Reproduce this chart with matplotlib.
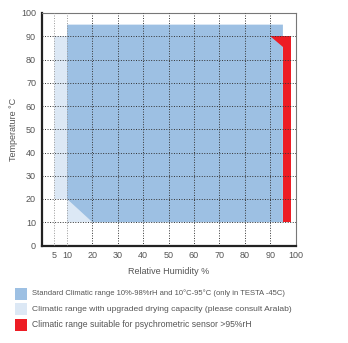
import matplotlib
matplotlib.use("Agg")
import matplotlib.pyplot as plt
from matplotlib.patches import Polygon, Rectangle

plt.rcParams['font.family'] = ['Liberation Sans', 'DejaVu Sans']

# Operating ranges (relative humidity %, temperature °C)
standard_rh = [10, 95, 95, 20, 10]
standard_t = [95, 95, 10, 10, 20]
upgraded_rh = [5, 10, 10, 20, 10, 10, 5]
upgraded_t = [90, 90, 20, 10, 10, 20, 20]
sensor_rh = [90, 98, 98, 95, 95]
sensor_t = [90, 90, 10, 10, 85.5]

x_ticks = [5, 10, 20, 30, 40, 50, 60, 70, 80, 90, 100]
y_ticks = [0, 10, 20, 30, 40, 50, 60, 70, 80, 90, 100]
legend_labels = [
    "Standard Climatic range 10%-98%rH and 10°C-95°C (only in TESTA -45C)",
    "Climatic range with upgraded drying capacity (please consult Aralab)",
    "Climatic range suitable for psychrometric sensor >95%rH",
]
legend_sizes = [5.5, 6.1, 6.2]

c_std = "#9dc0e3"
c_upg = "#dce8f5"
c_sen = "#ed1c24"
txt = "#555555"

fig = plt.figure(figsize=(3.48, 3.43), dpi=100)
ax = fig.add_axes([41.6 / 348, 1 - 245.5 / 343, (295.6 - 41.6) / 348, (245.5 - 13) / 343])
ax.set_xlim(0, 100)
ax.set_ylim(0, 100)

ax.add_patch(Polygon(list(zip(upgraded_rh, upgraded_t)), closed=True, fc=c_upg, ec="none", zorder=1))
ax.add_patch(Polygon(list(zip(standard_rh, standard_t)), closed=True, fc=c_std, ec="none", zorder=1))
ax.add_patch(Polygon(list(zip(sensor_rh, sensor_t)), closed=True, fc=c_sen, ec="none", zorder=2))

# dotted grid
for xv in x_ticks[:-1]:
    col = "#999999" if xv in (5, 10) else "#333333"
    ax.plot([xv, xv], [0, 100], ls=(0, (1, 1.6)), lw=0.7, color=col, zorder=3)
for yv in y_ticks[1:-1]:
    ax.plot([0, 100], [yv, yv], ls=(0, (1, 1.6)), lw=0.7, color="#333333", zorder=3)

ax.set_xticks(x_ticks)
ax.set_yticks(y_ticks)
ax.tick_params(length=0, labelsize=6.5, labelcolor=txt, pad=4)
for s in ("left", "bottom"):
    ax.spines[s].set_linewidth(1.6)
    ax.spines[s].set_color("#222222")
for s in ("top", "right"):
    ax.spines[s].set_linewidth(0.8)
    ax.spines[s].set_color("#777777")
ax.set_xlabel("Relative Humidity %", fontsize=6.5, color=txt, labelpad=5)
ax.set_ylabel("Temperature °C", fontsize=6.5, color=txt, labelpad=2)

# legend entries
colors = [c_std, c_upg, c_sen]
for i, (lab, col, fs) in enumerate(zip(legend_labels, colors, legend_sizes)):
    yc = 293.5 + i * 15.7
    fig.patches.append(Rectangle((15 / 348, 1 - (yc + 6) / 343), 12 / 348, 12 / 343,
                                 transform=fig.transFigure, fc=col, ec="none"))
    fig.text(32 / 348, 1 - yc / 343, lab, fontsize=fs, color=txt, va="center", ha="left")

fig.savefig("out.png", dpi=100)
